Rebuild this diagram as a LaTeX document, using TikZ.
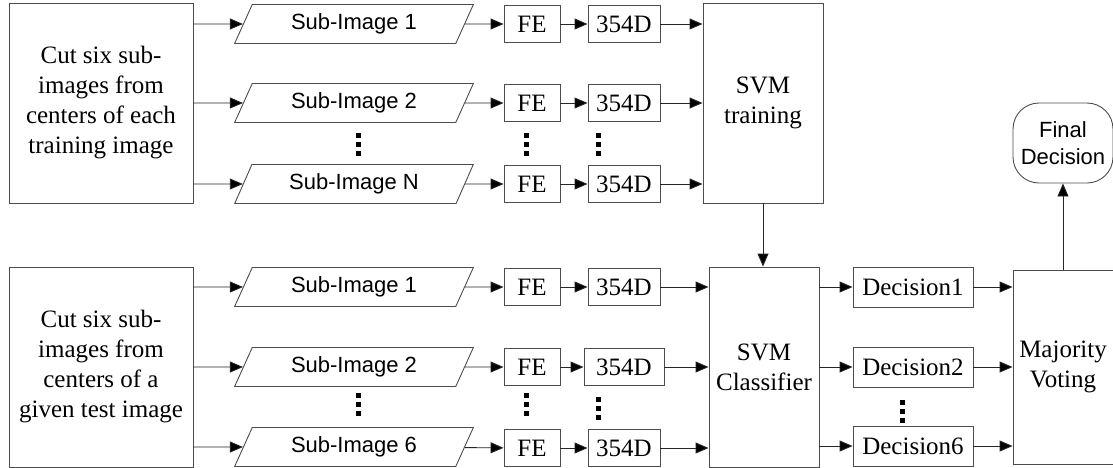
\documentclass[tikz,border=0pt]{standalone}
\usepackage{fontspec}
\setmainfont{Liberation Serif}
\newfontfamily\sansface{Liberation Sans}
\usetikzlibrary{arrows.meta,shapes.geometric}

\begin{document}
\begin{tikzpicture}[x=1pt,y=-1pt,
  box/.style={draw=black!70,line width=0.9pt,rectangle,inner sep=0pt,
    align=center,font=\fontsize{25}{30}\selectfont},
  bigbox/.style={box,minimum width=184pt,minimum height=200pt},
  fe/.style={box,minimum width=56pt,minimum height=37pt},
  dim/.style={box,minimum width=72pt,minimum height=37pt},
  dec/.style={box,minimum width=120pt,minimum height=40pt},
  subimg/.style={draw=black!70,line width=0.9pt,shape=trapezium,
    trapezium left angle=62,trapezium right angle=118,trapezium stretches=true,
    minimum width=239pt,minimum height=39pt,inner sep=0pt,
    font=\sansface\fontsize{22}{26}\selectfont},
  arr/.style={draw=black!85,line width=0.9pt,-{Triangle[length=13pt,width=11pt,fill=black]}},
  vdots/.style={line width=5pt,dash pattern=on 5pt off 4pt,black}
]
\useasboundingbox (0,0) rectangle (1113,467);

% training branch
\node[bigbox] (cutA) at (101,103) {Cut six sub-\\images from\\centers of each\\training image};
\node[subimg] (sa1) at (354,24)  {Sub-Image 1};
\node[subimg] (sa2) at (354,103) {Sub-Image 2};
\node[subimg] (saN) at (354,184) {Sub-Image N};
\node[fe] (fa1) at (532,24)  {FE};
\node[fe] (fa2) at (532,103) {FE};
\node[fe] (faN) at (532,184) {FE};
\node[dim] (da1) at (624,24)  {354D};
\node[dim] (da2) at (624,103) {354D};
\node[dim] (daN) at (624,184) {354D};
\node[box,minimum width=120pt,minimum height=200pt] (train) at (763,103) {SVM\\training};

% test branch
\node[bigbox] (cutB) at (101,367) {Cut six sub-\\images from\\centers of a\\given test image};
\node[subimg] (sb1) at (354,287) {Sub-Image 1};
\node[subimg] (sb2) at (354,367) {Sub-Image 2};
\node[subimg] (sb6) at (354,447) {Sub-Image 6};
\node[fe] (fb1) at (532,287) {FE};
\node[fe] (fb2) at (532,367) {FE};
\node[fe] (fb6) at (532,448) {FE};
\node[dim] (db1) at (624,287) {354D};
\node[dim,minimum width=80pt] (db2) at (624,367) {354D};
\node[dim] (db6) at (624,448) {354D};
\node[box,minimum width=110pt,minimum height=200pt] (clf) at (764,367) {SVM\\Classifier};

\node[dec] (dc1) at (913,287) {Decision1};
\node[dec] (dc2) at (913,367) {Decision2};
\node[dec] (dc6) at (913,446) {Decision6};
\node[box,minimum width=100pt,minimum height=194pt] (vote) at (1063,367) {Majority\\Voting};
\node[draw=black!70,line width=0.9pt,rounded corners=26pt,minimum width=100pt,
  minimum height=80pt,inner sep=0pt,align=center,
  font=\sansface\fontsize{22}{27}\selectfont] (final) at (1063,143) {Final\\Decision};

% connectors, training rows
\foreach \s/\f/\d in {sa1/fa1/da1,sa2/fa2/da2,saN/faN/daN}{
  \draw[arr] (cutA.east |- \s) -- (\s);
  \draw[arr] (\s) -- (\f);
  \draw[arr] (\f) -- (\d);
  \draw[arr] (\d) -- (train.west |- \d);
}
% connectors, test rows
\foreach \s/\f/\d in {sb1/fb1/db1,sb2/fb2/db2,sb6/fb6/db6}{
  \draw[arr] (cutB.east |- \s) -- (\s);
  \draw[arr] (\s) -- (\f);
  \draw[arr] (\f) -- (\d);
  \draw[arr] (\d) -- (clf.west |- \d);
}
\foreach \c in {dc1,dc2,dc6}{
  \draw[arr] (clf.east |- \c) -- (\c);
  \draw[arr] (\c) -- (vote.west |- \c);
}
\draw[arr] (train.south) -- (train.south |- clf.north);
\draw[arr] (vote.north) -- (final.south);

% ellipsis marks
\foreach \x/\ya in {358/133,526/133,598/133,358/393,526/393,598/397,902/400}{
  \draw[vdots] (\x,\ya) -- (\x,\ya+23);
}
\end{tikzpicture}
\end{document}
